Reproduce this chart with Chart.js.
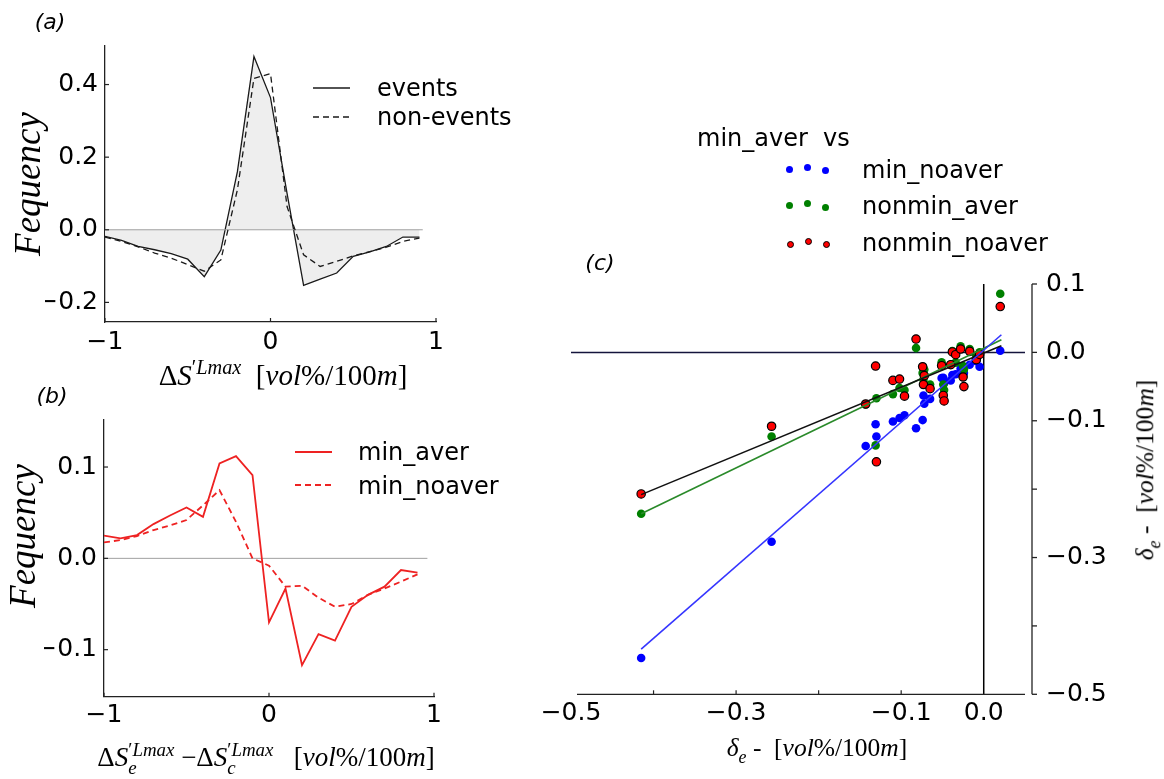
<!DOCTYPE html>
<html><head><meta charset="utf-8">
<script src="https://cdn.jsdelivr.net/npm/chart.js@4.4.1/dist/chart.umd.min.js"></script>
<style>
html,body{margin:0;padding:0;background:#fff;}
#wrap{position:relative;width:1164px;height:779px;overflow:hidden;background:#fff;}
canvas{position:absolute;left:0;top:0;}
.t{position:absolute;white-space:nowrap;color:#000;line-height:1;}
.sans{font-family:"DejaVu Sans",sans-serif;}
.serif{font-family:"Liberation Serif",serif;}
.c{transform:translate(-50%,-50%);}
.r{transform:translate(-50%,-50%) rotate(-90deg);}
.hc{transform:translateX(-50%);}
.vc{transform:translateY(-50%);}
sup,sub{font-size:0.7em;line-height:0;position:relative;vertical-align:baseline;}
sup{top:-0.55em;}
sub{top:0.4em;}
.bk{margin-left:-0.44em;}
.dot{position:absolute;width:7px;height:7px;border-radius:50%;}
</style></head><body>
<div id="wrap">
<canvas id="ca" width="1164" height="779"></canvas>
<canvas id="cb" width="1164" height="779"></canvas>
<canvas id="cc" width="1164" height="779"></canvas>

<div class="t sans c" style="left:50px;top:22px;font-size:22px;font-style:italic">(a)</div>
<div class="t sans c" style="left:52px;top:396px;font-size:22px;font-style:italic">(b)</div>
<div class="t sans c" style="left:600px;top:263px;font-size:22px;font-style:italic">(c)</div>

<div class="t serif r" style="left:27px;top:184px;font-size:37px;font-style:italic">Fequency</div>
<div class="t serif r" style="left:22px;top:536px;font-size:37px;font-style:italic">Fequency</div>

<div class="t serif hc" style="left:283px;top:361px;font-size:29px">Δ<i>S</i><sup>′<i>Lmax</i></sup>&nbsp;&nbsp;[<i>vol</i>%/100<i>m</i>]</div>
<div class="t serif hc" style="left:266px;top:744px;font-size:27px">Δ<i>S</i><sub><i>e</i></sub><sup class="bk">′<i>Lmax</i></sup> −Δ<i>S</i><sub><i>c</i></sub><sup class="bk">′<i>Lmax</i></sup>&nbsp;&nbsp;&nbsp;[<i>vol</i>%/100<i>m</i>]</div>
<div class="t serif hc" style="left:817px;top:735px;font-size:25.5px"><i>δ</i><sub><i>e</i></sub> -&nbsp;&nbsp;[<i>vol</i>%/100<i>m</i>]</div>
<div class="t serif r" style="left:1145px;top:470px;font-size:25.5px"><i>δ</i><sub><i>e</i></sub> -&nbsp;&nbsp;[<i>vol</i>%/100<i>m</i>]</div>

<svg style="position:absolute;left:305px;top:75px" width="50" height="60">
  <line x1="8" y1="13" x2="45" y2="13" stroke="#1a1a1a" stroke-width="1.3"/>
  <line x1="8" y1="42" x2="45" y2="42" stroke="#1a1a1a" stroke-width="1.3" stroke-dasharray="6,4"/>
</svg>
<div class="t sans vc" style="left:377px;top:88px;font-size:24px">events</div>
<div class="t sans vc" style="left:377px;top:117px;font-size:24px">non-events</div>

<svg style="position:absolute;left:290px;top:440px" width="50" height="60">
  <line x1="5" y1="12" x2="42" y2="12" stroke="#ee2222" stroke-width="1.8"/>
  <line x1="5" y1="45" x2="42" y2="45" stroke="#ee2222" stroke-width="1.8" stroke-dasharray="6,4"/>
</svg>
<div class="t sans vc" style="left:358px;top:452px;font-size:24px">min_aver</div>
<div class="t sans vc" style="left:358px;top:486px;font-size:24px">min_noaver</div>

<div class="t sans vc" style="left:697px;top:138px;font-size:24px">min_aver&nbsp;&nbsp;vs</div>
<div class="dot" style="left:786px;top:166px;background:#0000ff"></div>
<div class="dot" style="left:804px;top:164px;background:#0000ff"></div>
<div class="dot" style="left:822px;top:167px;background:#0000ff"></div>
<div class="dot" style="left:786px;top:202px;background:#008000"></div>
<div class="dot" style="left:804px;top:200px;background:#008000"></div>
<div class="dot" style="left:822px;top:204px;background:#008000"></div>
<div class="dot" style="left:787px;top:241px;width:5px;height:5px;background:#ff0000;border:1px solid #000"></div>
<div class="dot" style="left:805px;top:238px;width:5px;height:5px;background:#ff0000;border:1px solid #000"></div>
<div class="dot" style="left:823px;top:241px;width:5px;height:5px;background:#ff0000;border:1px solid #000"></div>
<div class="t sans vc" style="left:862px;top:170px;font-size:24px">min_noaver</div>
<div class="t sans vc" style="left:862px;top:206px;font-size:24px">nonmin_aver</div>
<div class="t sans vc" style="left:862px;top:243px;font-size:24px">nonmin_noaver</div>
</div>

<script>
// ---------- Panel (a) ----------
const aX = [-1.0,-0.9,-0.8,-0.7,-0.6,-0.5,-0.4,-0.3,-0.2,-0.1,0.0,0.1,0.2,0.3,0.4,0.5,0.6,0.7,0.8,0.9];
const aEvents = [-0.018,-0.029,-0.046,-0.055,-0.066,-0.081,-0.129,-0.056,0.160,0.477,0.364,0.100,-0.153,-0.136,-0.119,-0.073,-0.061,-0.046,-0.020,-0.020];
const aNonEvents = [-0.020,-0.032,-0.047,-0.064,-0.078,-0.096,-0.114,-0.083,0.110,0.417,0.430,0.064,-0.069,-0.101,-0.087,-0.072,-0.060,-0.048,-0.032,-0.023];
const aZeroLine = [-1.0, 0.92];
const aXTicks = [-1, 0, 1];
const aXTickLabels = ['\u22121', '0', '1'];
const aYTicks = [-0.2, 0.0, 0.2, 0.4];
const aYTickLabels = ['\u22120.2', '0.0', '0.2', '0.4'];

// ---------- Panel (b) ----------
const bX = [-1.0,-0.9,-0.8,-0.7,-0.6,-0.5,-0.4,-0.3,-0.2,-0.1,0.0,0.1,0.2,0.3,0.4,0.5,0.6,0.7,0.8,0.9];
const bMinAver = [0.0248,0.0219,0.0255,0.0375,0.047,0.0557,0.0455,0.104,0.112,0.091,-0.070,-0.033,-0.117,-0.083,-0.090,-0.053,-0.040,-0.031,-0.0128,-0.0157];
const bMinNoaver = [0.0175,0.020,0.0244,0.031,0.036,0.042,0.058,0.0747,0.040,0.000,-0.008,-0.031,-0.030,-0.043,-0.053,-0.050,-0.040,-0.033,-0.0255,-0.0175];
const bZeroLine = [-1.0, 0.96];
const bXTicks = [-1, 0, 1];
const bXTickLabels = ['\u22121', '0', '1'];
const bYTicks = [-0.1, 0.0, 0.1];
const bYTickLabels = ['\u22120.1', '0.0', '0.1'];

// ---------- Panel (c) ----------
const cX =        [-0.415,-0.257,-0.143,-0.131,-0.130,-0.110,-0.102,-0.096,-0.082,-0.074,-0.073,-0.072,-0.065,-0.051,-0.049,-0.048,-0.040,-0.038,-0.034,-0.028,-0.025,-0.024,-0.017,-0.009,-0.005,0.020];
const cMinNoaver = [-0.447,-0.277,-0.137,-0.105,-0.123,-0.101,-0.096,-0.092,-0.111,-0.099,-0.063,-0.075,-0.068,-0.0375,-0.037,-0.045,-0.041,-0.033,-0.032,-0.024,-0.033,-0.030,-0.018,-0.013,-0.021,0.0024];
const cNonminAver = [-0.236,-0.123,-0.076,-0.136,-0.067,-0.061,-0.052,-0.055,0.0063,-0.030,-0.040,-0.025,-0.047,-0.0146,-0.047,-0.055,-0.018,0.002,-0.015,0.0088,-0.020,-0.025,0.0049,-0.005,0.000,0.0858];
const cNonminNoaver = [-0.207,-0.108,-0.0755,-0.020,-0.160,-0.041,-0.039,-0.064,0.0195,-0.021,-0.047,-0.034,-0.053,-0.0195,-0.063,-0.071,-0.018,0.0006,-0.0034,0.0049,-0.036,-0.050,0.0015,-0.0107,-0.003,0.067];
const cFitX = [-0.415, 0.0214];
const cFitMinNoaver = [-0.434, 0.0258];
const cFitNonminAver = [-0.236, 0.0185];
const cFitNonminNoaver = [-0.208, 0.0097];
const cHLineX = [-0.5, 0.05];
const cVLineY = [-0.5, 0.1];
const cXTicks = [-0.5,-0.4,-0.3,-0.2,-0.1,0.0];
const cXTickLabels = ['\u22120.5','','\u22120.3','','\u22120.1','0.0'];
const cXTickMarks = [-0.4,-0.3,-0.2,-0.1];
const cYTicks = [0.1,0.0,-0.1,-0.2,-0.3,-0.4,-0.5];
const cYTickLabels = ['0.1','0.0','\u22120.1','','\u22120.3','','\u22120.5'];

// ---------- helpers ----------
const pts = (xs, ys) => xs.map((x, i) => ({x: x, y: ys[i]}));
const tickFont = {family: '"DejaVu Sans", sans-serif', size: 25};
const setTicks = vals => scale => { scale.ticks = vals.map(v => ({value: v})); };

const decor = {
  id: 'decor',
  afterDraw(chart, args, o) {
    const ctx = chart.ctx, a = chart.chartArea, xs = chart.scales.x, ys = chart.scales.y;
    ctx.save();
    ctx.strokeStyle = '#222'; ctx.lineWidth = 1.2;
    const L = o.len || 4;
    (o.xTicks || []).forEach(v => {
      const p = xs.getPixelForValue(v);
      ctx.beginPath(); ctx.moveTo(p, a.bottom); ctx.lineTo(p, a.bottom - L); ctx.stroke();
    });
    (o.yTicksLeft || []).forEach(v => {
      const p = ys.getPixelForValue(v);
      ctx.beginPath(); ctx.moveTo(a.left, p); ctx.lineTo(a.left + L, p); ctx.stroke();
    });
    if (o.rightSpine) {
      const sx = a.right + o.rightSpine;
      ctx.lineWidth = 1.3;
      ctx.beginPath(); ctx.moveTo(sx, a.top); ctx.lineTo(sx, a.bottom); ctx.stroke();
      (o.yTicksRight || []).forEach(v => {
        const p = ys.getPixelForValue(v);
        ctx.beginPath(); ctx.moveTo(sx, p); ctx.lineTo(sx + 5, p); ctx.stroke();
      });
    }
    if (o.bottomSpine !== undefined) {
      ctx.lineWidth = 1.3;
      ctx.beginPath(); ctx.moveTo(a.left + o.bottomSpine, a.bottom); ctx.lineTo(a.right, a.bottom); ctx.stroke();
    }
    ctx.restore();
  }
};

const baseOpts = (pad) => ({
  responsive: false, animation: false, devicePixelRatio: 1,
  layout: {padding: pad},
  plugins: {legend: {display: false}, tooltip: {enabled: false}},
  elements: {line: {tension: 0}, point: {radius: 0}}
});

// ---------- Chart (a) ----------
const optA = baseOpts({left: 45, right: 728, top: 45.7, bottom: 417});
optA.plugins.decor = {xTicks: aXTicks, yTicksLeft: aYTicks, len: 4};
optA.scales = {
  x: {type: 'linear', min: -1, max: 1, afterBuildTicks: setTicks(aXTicks), afterFit: s => { s.height = 40; },
      grid: {display: false, drawTicks: false}, border: {display: true, color: '#222', width: 1.3},
      ticks: {font: tickFont, color: '#000', padding: 5, maxRotation: 0, autoSkip: false, callback: (v, i) => aXTickLabels[i]}},
  y: {type: 'linear', min: -0.254, max: 0.507, afterBuildTicks: setTicks(aYTicks), afterFit: s => { s.width = 60; },
      grid: {display: false, drawTicks: false}, border: {display: true, color: '#222', width: 1.3},
      ticks: {font: tickFont, color: '#000', padding: 7, autoSkip: false, callback: (v, i) => aYTickLabels[i]}}
};
new Chart(document.getElementById('ca'), {
  type: 'line',
  data: {datasets: [
    {label: 'events', data: pts(aX, aEvents), borderColor: '#1a1a1a', borderWidth: 1.3, pointRadius: 0,
     fill: {value: 0}, backgroundColor: '#eeeeee', order: 3},
    {label: 'zero', data: pts(aZeroLine, [0, 0]), borderColor: '#a0a0a0', borderWidth: 1, pointRadius: 0, fill: false, order: 2},
    {label: 'non-events', data: pts(aX, aNonEvents), borderColor: '#1a1a1a', borderWidth: 1.3, borderDash: [6, 4],
     pointRadius: 0, fill: false, order: 1}
  ]},
  options: optA,
  plugins: [decor]
});

// ---------- Chart (b) ----------
const optB = baseOpts({left: 44, right: 730, top: 420, bottom: 42.3});
optB.plugins.decor = {xTicks: bXTicks, yTicksLeft: bYTicks, len: 4};
optB.scales = {
  x: {type: 'linear', min: -1, max: 1, afterBuildTicks: setTicks(bXTicks), afterFit: s => { s.height = 40; },
      grid: {display: false, drawTicks: false}, border: {display: true, color: '#222', width: 1.3},
      ticks: {font: tickFont, color: '#000', padding: 4, maxRotation: 0, autoSkip: false, callback: (v, i) => bXTickLabels[i]}},
  y: {type: 'linear', min: -0.1515, max: 0.1515, afterBuildTicks: setTicks(bYTicks), afterFit: s => { s.width = 60; },
      grid: {display: false, drawTicks: false}, border: {display: true, color: '#222', width: 1.3},
      ticks: {font: tickFont, color: '#000', padding: 7, autoSkip: false, callback: (v, i) => bYTickLabels[i]}}
};
new Chart(document.getElementById('cb'), {
  type: 'line',
  data: {datasets: [
    {label: 'zero', data: pts(bZeroLine, [0, 0]), borderColor: '#a0a0a0', borderWidth: 1, pointRadius: 0, fill: false, order: 3},
    {label: 'min_aver', data: pts(bX, bMinAver), borderColor: '#ee2222', borderWidth: 1.8, pointRadius: 0, fill: false, order: 2},
    {label: 'min_noaver', data: pts(bX, bMinNoaver), borderColor: '#ee2222', borderWidth: 1.8, borderDash: [6, 4],
     pointRadius: 0, fill: false, order: 1}
  ]},
  options: optB,
  plugins: [decor]
});

// ---------- Chart (c) ----------
const optC = baseOpts({left: 571, right: 39, top: 284, bottom: 44.7});
optC.plugins.decor = {xTicks: cXTickMarks, yTicksRight: cYTicks, rightSpine: 7, bottomSpine: 6, len: 4};
optC.scales = {
  x: {type: 'linear', min: -0.5, max: 0.05, afterBuildTicks: setTicks(cXTicks), afterFit: s => { s.height = 40; },
      grid: {display: false, drawTicks: false}, border: {display: false},
      ticks: {font: tickFont, color: '#000', padding: 4, maxRotation: 0, autoSkip: false, callback: (v, i) => cXTickLabels[i]}},
  y: {type: 'linear', position: 'right', min: -0.5, max: 0.1, afterBuildTicks: setTicks(cYTicks), afterFit: s => { s.width = 100; },
      grid: {display: false, drawTicks: false}, border: {display: false},
      ticks: {font: tickFont, color: '#000', padding: 21, autoSkip: false, callback: (v, i) => cYTickLabels[i]}}
};
new Chart(document.getElementById('cc'), {
  type: 'scatter',
  data: {datasets: [
    {label: 'h0', data: pts(cHLineX, [0, 0]), showLine: true, borderColor: '#14143c', borderWidth: 1.5, pointRadius: 0, order: 9},
    {label: 'v0', data: pts([0, 0], cVLineY), showLine: true, borderColor: '#000', borderWidth: 1.5, pointRadius: 0, order: 8},
    {label: 'min_noaver', data: pts(cX, cMinNoaver), backgroundColor: '#0000ff', borderColor: '#0000ff', borderWidth: 0, pointRadius: 4.3, order: 7},
    {label: 'nonmin_aver', data: pts(cX, cNonminAver), backgroundColor: '#008000', borderColor: '#008000', borderWidth: 0, pointRadius: 4.3, order: 6},
    {label: 'nonmin_noaver', data: pts(cX, cNonminNoaver), backgroundColor: '#ff0000', borderColor: '#000', borderWidth: 1.2, pointRadius: 4.2, order: 5},
    {label: 'fit nonmin_aver', data: pts(cFitX, cFitNonminAver), showLine: true, borderColor: '#2a8a2a', borderWidth: 1.6, pointRadius: 0, order: 4},
    {label: 'fit nonmin_noaver', data: pts(cFitX, cFitNonminNoaver), showLine: true, borderColor: '#111', borderWidth: 1.6, pointRadius: 0, order: 3},
    {label: 'fit min_noaver', data: pts(cFitX, cFitMinNoaver), showLine: true, borderColor: '#3535ff', borderWidth: 1.6, pointRadius: 0, order: 2}
  ]},
  options: optC,
  plugins: [decor]
});
</script>
</body></html>
